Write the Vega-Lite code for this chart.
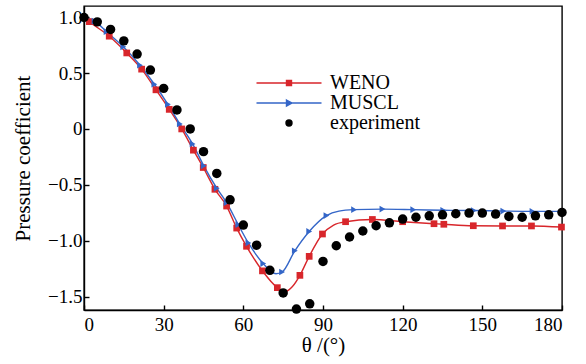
{
  "$schema": "https://vega.github.io/schema/vega-lite/v6.json",
  "width": 478,
  "height": 304,
  "autosize": "none",
  "padding": {"left": 84, "top": 6, "right": 24, "bottom": 54},
  "background": "white",
  "config": {
    "view": {"stroke": "black", "strokeWidth": 1.4},
    "axis": {
      "domainColor": "black", "domainWidth": 1.4, "tickColor": "black", "tickWidth": 1.4,
      "labelColor": "black", "titleColor": "black",
      "labelFont": "Liberation Serif", "labelFontSize": 19,
      "titleFont": "Liberation Serif", "titleFontSize": 21, "titleFontWeight": "normal",
      "grid": false
    },
    "legend": {"labelFont": "Liberation Serif", "labelFontSize": 20, "labelColor": "black"}
  },
  "data": {"values": [
    {"s": "WENO", "t": 0, "cp": 1.0, "m": 0},
    {"s": "WENO", "t": 2.0, "cp": 0.96, "m": 1},
    {"s": "WENO", "t": 9.5, "cp": 0.83, "m": 1},
    {"s": "WENO", "t": 16.1, "cp": 0.68, "m": 1},
    {"s": "WENO", "t": 21.7, "cp": 0.535, "m": 1},
    {"s": "WENO", "t": 27.1, "cp": 0.35, "m": 1},
    {"s": "WENO", "t": 32.1, "cp": 0.175, "m": 1},
    {"s": "WENO", "t": 36.8, "cp": 0.0, "m": 1},
    {"s": "WENO", "t": 41.2, "cp": -0.19, "m": 1},
    {"s": "WENO", "t": 44.9, "cp": -0.345, "m": 1},
    {"s": "WENO", "t": 49.3, "cp": -0.54, "m": 1},
    {"s": "WENO", "t": 53.7, "cp": -0.69, "m": 1},
    {"s": "WENO", "t": 57.5, "cp": -0.887, "m": 1},
    {"s": "WENO", "t": 61.2, "cp": -1.05, "m": 1},
    {"s": "WENO", "t": 67.2, "cp": -1.27, "m": 1},
    {"s": "WENO", "t": 72.8, "cp": -1.42, "m": 1},
    {"s": "WENO", "t": 75.8, "cp": -1.455, "m": 0},
    {"s": "WENO", "t": 78.5, "cp": -1.41, "m": 0},
    {"s": "WENO", "t": 81.3, "cp": -1.31, "m": 1},
    {"s": "WENO", "t": 84.8, "cp": -1.14, "m": 1},
    {"s": "WENO", "t": 89.8, "cp": -0.94, "m": 1},
    {"s": "WENO", "t": 94.0, "cp": -0.86, "m": 0},
    {"s": "WENO", "t": 98.5, "cp": -0.83, "m": 1},
    {"s": "WENO", "t": 108.6, "cp": -0.81, "m": 1},
    {"s": "WENO", "t": 120.0, "cp": -0.83, "m": 1},
    {"s": "WENO", "t": 131.8, "cp": -0.848, "m": 1},
    {"s": "WENO", "t": 135.5, "cp": -0.853, "m": 1},
    {"s": "WENO", "t": 146.6, "cp": -0.866, "m": 1},
    {"s": "WENO", "t": 157.6, "cp": -0.868, "m": 1},
    {"s": "WENO", "t": 168.5, "cp": -0.868, "m": 1},
    {"s": "WENO", "t": 179.8, "cp": -0.878, "m": 1},
    {"s": "MUSCL", "t": 0, "cp": 1.0, "m": 0},
    {"s": "MUSCL", "t": 4.0, "cp": 0.965, "m": 1},
    {"s": "MUSCL", "t": 8.5, "cp": 0.87, "m": 1},
    {"s": "MUSCL", "t": 14.8, "cp": 0.735, "m": 1},
    {"s": "MUSCL", "t": 21.1, "cp": 0.57, "m": 1},
    {"s": "MUSCL", "t": 26.5, "cp": 0.40, "m": 1},
    {"s": "MUSCL", "t": 31.6, "cp": 0.22, "m": 1},
    {"s": "MUSCL", "t": 36.1, "cp": 0.045, "m": 1},
    {"s": "MUSCL", "t": 40.9, "cp": -0.134, "m": 1},
    {"s": "MUSCL", "t": 45.1, "cp": -0.33, "m": 1},
    {"s": "MUSCL", "t": 50.0, "cp": -0.53, "m": 1},
    {"s": "MUSCL", "t": 53.7, "cp": -0.66, "m": 1},
    {"s": "MUSCL", "t": 58.1, "cp": -0.857, "m": 1},
    {"s": "MUSCL", "t": 61.9, "cp": -1.02, "m": 1},
    {"s": "MUSCL", "t": 67.5, "cp": -1.205, "m": 1},
    {"s": "MUSCL", "t": 72.3, "cp": -1.295, "m": 0},
    {"s": "MUSCL", "t": 74.6, "cp": -1.28, "m": 1},
    {"s": "MUSCL", "t": 79.4, "cp": -1.09, "m": 1},
    {"s": "MUSCL", "t": 84.8, "cp": -0.917, "m": 1},
    {"s": "MUSCL", "t": 91.3, "cp": -0.775, "m": 1},
    {"s": "MUSCL", "t": 96.0, "cp": -0.735, "m": 0},
    {"s": "MUSCL", "t": 101.7, "cp": -0.722, "m": 1},
    {"s": "MUSCL", "t": 112.4, "cp": -0.717, "m": 1},
    {"s": "MUSCL", "t": 124.0, "cp": -0.722, "m": 1},
    {"s": "MUSCL", "t": 135.3, "cp": -0.728, "m": 1},
    {"s": "MUSCL", "t": 146.8, "cp": -0.73, "m": 1},
    {"s": "MUSCL", "t": 157.9, "cp": -0.735, "m": 1},
    {"s": "MUSCL", "t": 168.9, "cp": -0.738, "m": 1},
    {"s": "MUSCL", "t": 179.6, "cp": -0.738, "m": 0},
    {"s": "experiment", "t": 0, "cp": 0.997, "m": 1},
    {"s": "experiment", "t": 5, "cp": 0.958, "m": 1},
    {"s": "experiment", "t": 10, "cp": 0.89, "m": 1},
    {"s": "experiment", "t": 15, "cp": 0.788, "m": 1},
    {"s": "experiment", "t": 20, "cp": 0.67, "m": 1},
    {"s": "experiment", "t": 25, "cp": 0.527, "m": 1},
    {"s": "experiment", "t": 30, "cp": 0.363, "m": 1},
    {"s": "experiment", "t": 35, "cp": 0.17, "m": 1},
    {"s": "experiment", "t": 40, "cp": 0.0, "m": 1},
    {"s": "experiment", "t": 45, "cp": -0.203, "m": 1},
    {"s": "experiment", "t": 50, "cp": -0.398, "m": 1},
    {"s": "experiment", "t": 55, "cp": -0.634, "m": 1},
    {"s": "experiment", "t": 60, "cp": -0.86, "m": 1},
    {"s": "experiment", "t": 65, "cp": -1.04, "m": 1},
    {"s": "experiment", "t": 70, "cp": -1.265, "m": 1},
    {"s": "experiment", "t": 75, "cp": -1.467, "m": 1},
    {"s": "experiment", "t": 80, "cp": -1.612, "m": 1},
    {"s": "experiment", "t": 85, "cp": -1.565, "m": 1},
    {"s": "experiment", "t": 90, "cp": -1.185, "m": 1},
    {"s": "experiment", "t": 95, "cp": -1.045, "m": 1},
    {"s": "experiment", "t": 100, "cp": -0.967, "m": 1},
    {"s": "experiment", "t": 105, "cp": -0.913, "m": 1},
    {"s": "experiment", "t": 110, "cp": -0.866, "m": 1},
    {"s": "experiment", "t": 115, "cp": -0.84, "m": 1},
    {"s": "experiment", "t": 120, "cp": -0.806, "m": 1},
    {"s": "experiment", "t": 125, "cp": -0.79, "m": 1},
    {"s": "experiment", "t": 130, "cp": -0.777, "m": 1},
    {"s": "experiment", "t": 135, "cp": -0.768, "m": 1},
    {"s": "experiment", "t": 140, "cp": -0.759, "m": 1},
    {"s": "experiment", "t": 145, "cp": -0.753, "m": 1},
    {"s": "experiment", "t": 150, "cp": -0.753, "m": 1},
    {"s": "experiment", "t": 155, "cp": -0.762, "m": 1},
    {"s": "experiment", "t": 160, "cp": -0.783, "m": 1},
    {"s": "experiment", "t": 165, "cp": -0.79, "m": 1},
    {"s": "experiment", "t": 170, "cp": -0.777, "m": 1},
    {"s": "experiment", "t": 175, "cp": -0.768, "m": 1},
    {"s": "experiment", "t": 180, "cp": -0.747, "m": 1}
  ]},
  "encoding": {
    "x": {
      "field": "t", "type": "quantitative",
      "scale": {"domain": [0, 180], "nice": false, "zero": false},
      "axis": {"values": [0, 30, 60, 90, 120, 150, 180], "tickSize": -5, "labelPadding": 10, "title": "θ /(°)", "titlePadding": 0}
    },
    "y": {
      "field": "cp", "type": "quantitative",
      "scale": {"domain": [-1.62, 1.1], "nice": false, "zero": false},
      "axis": {"values": [-1.5, -1, -0.5, 0, 0.5, 1], "tickSize": -5, "labelPadding": 7,
        "labelExpr": "datum.value == 0 ? '0' : format(datum.value, '.1f')",
        "title": "Pressure coefficient", "titleX": -61, "titleY": 152, "titleBaseline": "middle", "titleAngle": -90}
    },
    "color": {
      "field": "s", "type": "nominal",
      "scale": {"domain": ["WENO", "MUSCL", "experiment"], "range": ["#d8262b", "#3466c8", "#000000"]},
      "legend": {
        "title": null, "orient": "none", "legendX": 195, "legendY": 67,
        "symbolSize": 100, "labelOffset": 31, "rowPadding": 0, "padding": 0,
        "encode": {
          "symbols": {"update": {
            "shape": {"signal": "datum.value == 'WENO' ? 'M-6.5,0H6.5M-0.5,-0.5H0.5V0.5H-0.5Z' : datum.value == 'MUSCL' ? 'M-6.5,0H6.5M-0.5,-0.6L0.6,0L-0.5,0.6Z' : 'M-0.6,0A0.6,0.6 0 1,1 0.6,0A0.6,0.6 0 1,1 -0.6,0Z'"},
            "fill": {"signal": "scale('color', datum.value)"},
            "stroke": {"signal": "scale('color', datum.value)"},
            "strokeWidth": {"value": 1.4},
            "opacity": {"value": 1}
          }}
        }
      }
    }
  },
  "layer": [
    {
      "transform": [{"filter": "datum.s != 'experiment'"}],
      "mark": {"type": "line", "interpolate": "monotone", "strokeWidth": 1.4, "clip": true}
    },
    {
      "transform": [{"filter": "datum.m == 1 && datum.s == 'WENO'"}],
      "mark": {"type": "point", "filled": true, "opacity": 1, "shape": "square", "size": 45}
    },
    {
      "transform": [{"filter": "datum.m == 1 && datum.s == 'MUSCL'"}],
      "mark": {"type": "point", "filled": true, "opacity": 1, "shape": "triangle-right", "size": 45}
    },
    {
      "transform": [{"filter": "datum.s == 'experiment'"}],
      "mark": {"type": "point", "filled": true, "opacity": 1, "shape": "circle", "size": 90}
    }
  ]
}
